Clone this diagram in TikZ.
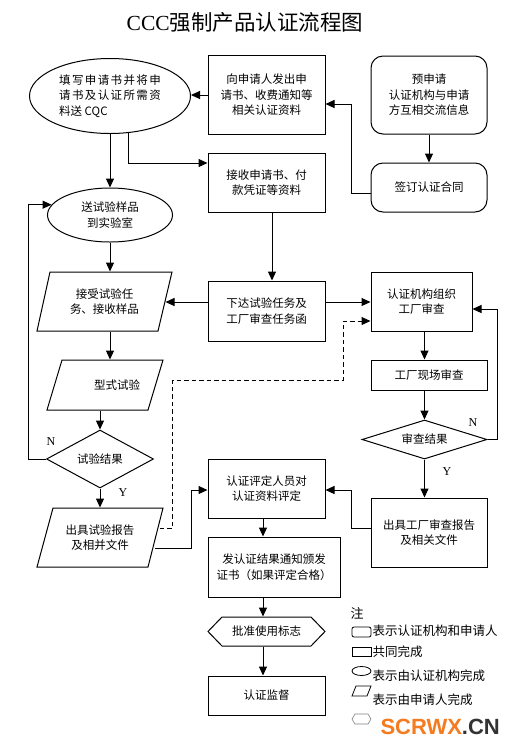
\documentclass[tikz,border=0pt]{standalone}
\usepackage{fontspec}
\setmainfont{Noto Sans CJK SC}
\newfontfamily\serifl{Liberation Serif}
\newfontfamily\wmfont{Liberation Sans}
\newfontfamily\spacedcjk[LetterSpace=12]{Noto Sans CJK SC}
\usetikzlibrary{shapes.geometric,arrows.meta,calc}
\definecolor{wmorange}{HTML}{F47B20}
\definecolor{wmgray}{HTML}{333333}
\begin{document}
\begin{tikzpicture}[x=1pt,y=-1pt,line width=1pt,
  font=\fontsize{11.5}{15.5}\selectfont,
  box/.style={draw,rectangle,inner sep=0pt,align=center},
  rbox/.style={draw,rectangle,rounded corners=12pt,inner sep=0pt,align=center},
  oval/.style={draw,ellipse,inner sep=0pt,align=center},
  dia/.style={draw,diamond,inner sep=0pt,align=center},
  txt/.style={inner sep=0pt,align=center},
  arr/.style={-{Triangle[length=9pt,width=8pt]}},
  yn/.style={font=\serifl\fontsize{12}{12}\selectfont,inner sep=0pt},
  legtxt/.style={anchor=west,inner sep=0pt,font=\fontsize{12.5}{14}\selectfont}]
\fill[white] (0,0) rectangle (519,748);
\useasboundingbox (0,0) rectangle (519,748);

% title
\node[txt,font=\fontsize{21.5}{23}\selectfont] (title) at (245,22) {{\serifl CCC}强制产品认证流程图};

% nodes
\node[oval,minimum width=161pt,minimum height=75pt,align=left] (e1) at (110,96) {{\spacedcjk 填写申请书并将申}\\{\spacedcjk 请书及认证所需资}\\料送 CQC};
\node[box,minimum width=117pt,minimum height=79pt] (b1) at (266.5,95) {向申请人发出申\\请书、收费通知等\\相关认证资料};
\node[rbox,minimum width=116pt,minimum height=78pt] (r1) at (429,95) {预申请\\认证机构与申请\\方互相交流信息};
\node[rbox,minimum width=116pt,minimum height=49pt] (r2) at (429,187.5) {签订认证合同};
\node[box,minimum width=117pt,minimum height=59pt] (b2) at (266.5,182.5) {接收申请书、付\\款凭证等资料};
\node[oval,minimum width=125pt,minimum height=54pt] (e2) at (110,215) {送试验样品\\到实验室};
\node[box,minimum width=117pt,minimum height=60pt] (b3) at (266.5,311) {下达试验任务及\\工厂审查任务函};
\draw (37,331)--(158,331)--(172,272)--(50,272)--cycle;
\node[txt,minimum width=121pt,minimum height=59pt] (p1) at (104.5,301.5) {接受试验任\\务、接收样品};
\node[box,minimum width=101pt,minimum height=59pt] (b4) at (421.5,301.5) {认证机构组织\\工厂审查};
\draw (47,410)--(148,410)--(163,360)--(62,360)--cycle;
\node[txt,minimum width=101pt,minimum height=50pt] (p2) at (105,385) {};
\node[txt] (p2t) at (117,385) {型式试验};
\node[dia,shape aspect=1.84,minimum width=107pt,minimum height=58pt] (d1) at (100,459) {试验结果};
\draw (37,567)--(148,567)--(163,508)--(53,508)--cycle;
\node[txt,minimum width=116pt,minimum height=59pt] (p3) at (100,537.5) {出具试验报告\\及相并文件};
\node[box,minimum width=116pt,minimum height=30pt] (b5) at (429,375) {工厂现场审查};
\node[dia,shape aspect=3.2,minimum width=125pt,minimum height=39pt] (d2) at (424.5,439.5) {审查结果};
\node[box,minimum width=116pt,minimum height=69pt] (b6) at (429,532.5) {出具工厂审查报告\\及相关文件};
\node[box,minimum width=117pt,minimum height=59pt] (b7) at (266.5,488.5) {认证评定人员对\\认证资料评定};
\node[box,minimum width=132pt,minimum height=60pt] (b8) at (274,567) {发认证结果通知颁发\\证书（如果评定合格）};
\draw (208,631.5)--(222,617)--(311,617)--(325,631.5)--(311,646)--(222,646)--cycle;
\node[txt,minimum width=117pt,minimum height=29pt] (h1) at (266.5,631.5) {批准使用标志};
\node[box,minimum width=117pt,minimum height=39pt] (b9) at (266.5,695.5) {认证监督};
\coordinate (cx) at (263,0);

% connectors
\draw[arr] (b1.west) -- (b1.west -| e1.east);
\draw[arr] (e1.south) -- (e2.north);
\draw[arr] (e1.-63.7) |- ([yshift=19.5pt]b2.west);
\draw[arr] (r1.south) -- (r2.north);
\draw[arr] ([yshift=-5.5pt]r2.west) -- ++(-19,0) |- ([yshift=-9pt]b1.east);
\draw[arr] ([xshift=5.5pt]b2.south) -- ([xshift=5.5pt]b3.north);
\draw[arr] (e2.south) -- (e2.south |- p1.north);
\draw[arr] ([yshift=9pt]b3.west) -- ([yshift=9pt]b3.west -| p1.east);
\draw[arr] ([yshift=9pt]b3.east) -- ([yshift=9pt]b3.east -| b4.west);
\draw[arr] (e2.south |- p1.south) -- (e2.south |- p2.north);
\draw[arr] (d1.north |- p2.south) -- (d1.north);
\draw[arr] (d1.south) -- (d1.south |- p3.north);
\draw[arr] (d1.west) -- ++(-18,0) |- (e2.170);
\draw[arr] ($(p3.east)+(-4,10.5)$) -- ++(37,0) |- ([yshift=-1.5pt]b7.west);
\draw[arr,dash pattern=on 4.5pt off 3pt] ($(p3.east)+(1,-9.5)$) -- ++(13,0) |- (343,380) |- ([yshift=-19.5pt]b4.west);
\draw[arr] (b4.south -| d2) -- (b5.north -| d2);
\draw[arr] (b5.south -| d2) -- (d2.north);
\draw[arr] (d2.east) -- ++(10,0) |- ([yshift=-7.5pt]b4.east);
\draw[arr] (d2.south) -- (b6.north -| d2);
\draw[arr] ([yshift=4.5pt]b6.west) -- ++(-19,0) |- ([yshift=-1.5pt]b7.east);
\draw[arr] (b7.south -| cx) -- (b8.north -| cx);
\draw[arr] (b8.south -| cx) -- (h1.north -| cx);
\draw[arr] (h1.south -| cx) -- (b9.north -| cx);

% Y / N labels
\node[yn] (n1) at (51,442) {N};
\node[yn] (y1) at (123,493) {Y};
\node[yn] (n2) at (473,423) {N};
\node[yn] (y2) at (447,472) {Y};

% legend
\node[legtxt,font=\fontsize{13}{14}\selectfont] (lz) at (350,613) {注};
\draw[line width=0.8pt,rounded corners=2pt] (352,627) rectangle (371,637);
\node[legtxt] (l1) at (372,631) {表示认证机构和申请人};
\draw[line width=0.8pt] (352,647) rectangle (371,656);
\node[legtxt] (l2) at (372,652) {共同完成};
\draw[line width=0.8pt] (361.5,671) ellipse [x radius=9.5pt, y radius=4.5pt];
\node[legtxt] (l3) at (372,676) {表示由认证机构完成};
\draw[line width=0.8pt] (352,696)--(367,696)--(371,686)--(356,686)--cycle;
\node[legtxt] (l4) at (372,700) {表示由申请人完成};
\draw[line width=0.6pt,gray] (352,719)--(355,714)--(368,714)--(371,719)--(368,724)--(355,724)--cycle;

% watermark
\node[anchor=west,inner sep=0pt,font=\wmfont\bfseries\fontsize{22}{22}\selectfont] (wm) at (380,727) {\textcolor{wmorange}{SCRWX}\textcolor{wmgray}{.CN}};
\end{tikzpicture}
\end{document}
